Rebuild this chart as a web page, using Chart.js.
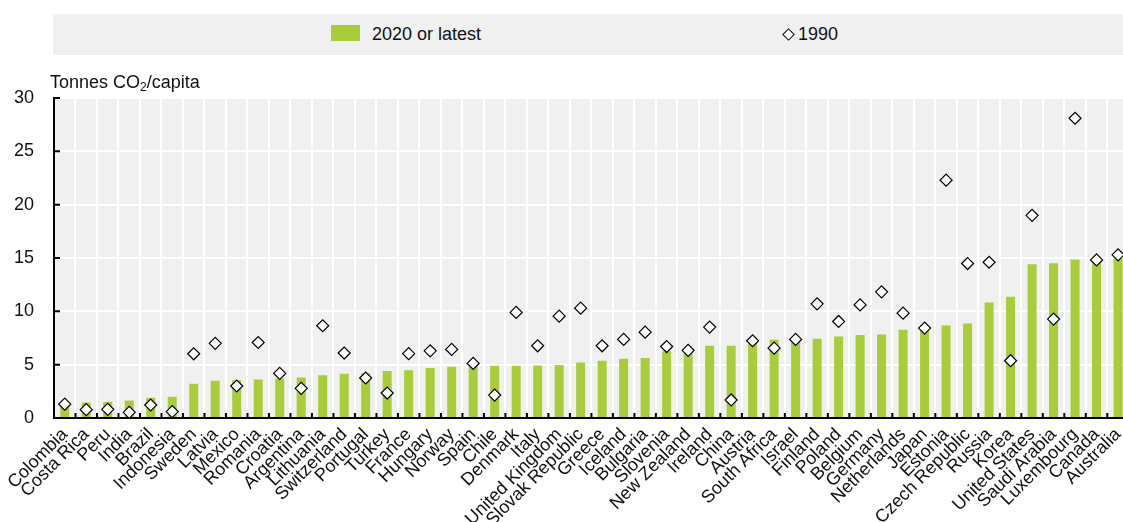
<!DOCTYPE html>
<html>
<head>
<meta charset="utf-8">
<script src="https://cdn.jsdelivr.net/npm/chart.js@4.4.1/dist/chart.umd.min.js"></script>
<style>
  html, body { margin: 0; padding: 0; background: #fff; overflow: hidden; }
  body { width: 1123px; height: 522px; position: relative; font-family: "Liberation Sans", Arial, sans-serif; color: #111; }
  #co2Chart { position: absolute; left: 0; top: 0; }
  #legend { position: absolute; left: 53px; top: 14px; width: 1070px; height: 41px; background: #f0f0f0; font-size: 18px; }
  #legend .item { position: absolute; top: 0; height: 41px; line-height: 41px; }
  .swatch { position: absolute; left: 278px; top: 11px; width: 29px; height: 16px; background: #a9cd3a; }
  .diam { position: absolute; left: 731px; top: 16px; width: 7px; height: 7px; border: 1.3px solid #000; background: #fff; transform: rotate(45deg); }
  #ytitle { position: absolute; left: 50px; top: 72px; font-size: 18px; white-space: nowrap; }
  #ytitle sub { font-size: 12px; vertical-align: -3px; line-height: 0; }
</style>
</head>
<body>
<!-- plot runs a few px past the right edge, like the original -->
<canvas id="co2Chart" width="1136" height="522"></canvas>
<div id="legend">
  <div class="swatch"></div>
  <div class="item" style="left:319px">2020 or latest</div>
  <div class="diam"></div>
  <div class="item" style="left:745px">1990</div>
</div>
<div id="ytitle">Tonnes CO<sub>2</sub>/capita</div>
<script>
const FONT = '"Liberation Sans", Arial, sans-serif';

const countries = ["Colombia","Costa Rica","Peru","India","Brazil","Indonesia","Sweden","Latvia","Mexico","Romania",
  "Croatia","Argentina","Lithuania","Switzerland","Portugal","Turkey","France","Hungary","Norway","Spain",
  "Chile","Denmark","Italy","United Kingdom","Slovak Republic","Greece","Iceland","Bulgaria","Slovenia","New Zealand",
  "Ireland","China","Austria","South Africa","Israel","Finland","Poland","Belgium","Germany","Netherlands",
  "Japan","Estonia","Czech Republic","Russia","Korea","United States","Saudi Arabia","Luxembourg","Canada","Australia"];

const latest = [1.1, 1.45, 1.5, 1.65, 1.9, 2.0, 3.2, 3.5, 3.55, 3.62,
  3.7, 3.8, 4.0, 4.15, 4.2, 4.4, 4.47, 4.68, 4.8, 4.85,
  4.9, 4.9, 4.93, 4.96, 5.2, 5.37, 5.56, 5.62, 6.25, 6.3,
  6.77, 6.78, 7.1, 7.33, 7.4, 7.43, 7.65, 7.77, 7.83, 8.27,
  8.45, 8.68, 8.86, 10.83, 11.36, 14.42, 14.5, 14.85, 14.88, 14.95];

const y1990 = [1.3, 0.78, 0.81, 0.53, 1.22, 0.6, 6.02, 7.0, 3.0, 7.08,
  4.18, 2.78, 8.65, 6.09, 3.75, 2.34, 6.03, 6.3, 6.43, 5.12,
  2.15, 9.9, 6.77, 9.55, 10.3, 6.77, 7.37, 8.05, 6.7, 6.34,
  8.52, 1.69, 7.24, 6.55, 7.37, 10.7, 9.05, 10.6, 11.83, 9.83,
  8.43, 22.3, 14.48, 14.6, 5.37, 19.0, 9.27, 28.1, 14.82, 15.3];

const yTicks = [0, 5, 10, 15, 20, 25, 30];

// grey plot background
const plotBg = {
  id: "plotBg",
  beforeDraw(chart) {
    const { ctx, chartArea: a } = chart;
    ctx.save();
    ctx.fillStyle = "#f0f0f0";
    ctx.fillRect(a.left, a.top, a.right - a.left, a.bottom - a.top);
    ctx.restore();
  }
};

// short black ticks pointing into the plot
const innerTicks = {
  id: "innerTicks",
  beforeDatasetsDraw(chart) {
    const { ctx, chartArea: a, scales: { x, y } } = chart;
    ctx.save();
    ctx.strokeStyle = "#000";
    ctx.lineWidth = 2;
    ctx.beginPath();
    for (let i = 1; i < countries.length; i++) {
      const px = (x.getPixelForTick(i - 1) + x.getPixelForTick(i)) / 2;
      ctx.moveTo(px, a.bottom);
      ctx.lineTo(px, a.bottom - 5);
    }
    yTicks.forEach(v => {
      const py = y.getPixelForValue(v);
      ctx.moveTo(a.left, py);
      ctx.lineTo(a.left + 6, py);
    });
    ctx.stroke();
    ctx.restore();
  }
};

new Chart(document.getElementById("co2Chart"), {
  data: {
    labels: countries,
    datasets: [
      {
        type: "line",
        label: "1990",
        data: y1990,
        showLine: false,
        pointStyle: "rectRot",
        pointRadius: 6,
        pointBackgroundColor: "#fff",
        pointBorderColor: "#000",
        pointBorderWidth: 1.2,
        order: 0
      },
      {
        type: "bar",
        label: "2020 or latest",
        data: latest,
        backgroundColor: "#a9cd3a",
        barPercentage: 0.84,
        categoryPercentage: 0.5,
        order: 1
      }
    ]
  },
  options: {
    animation: false,
    responsive: false,
    devicePixelRatio: 1,
    layout: { padding: { top: 98, right: 7, left: 0, bottom: 0 } },
    plugins: { legend: { display: false }, tooltip: { enabled: false } },
    scales: {
      x: {
        offset: true,
        grid: { color: "#fff", lineWidth: 2, drawTicks: false },
        border: { color: "#000", width: 2 },
        ticks: {
          autoSkip: false, maxRotation: 45, minRotation: 45, padding: 6,
          color: "#111", font: { family: FONT, size: 18 }
        },
        afterFit: s => { s.height = 104; s.paddingLeft = 0; s.paddingRight = 0; }
      },
      y: {
        min: 0, max: 30,
        grid: { color: "#fff", lineWidth: 2, drawTicks: false },
        border: { color: "#000", width: 2 },
        ticks: {
          stepSize: 5, padding: 20,
          color: "#111", font: { family: FONT, size: 18 }
        },
        afterFit: s => { s.width = 54; }
      }
    }
  },
  plugins: [plotBg, innerTicks]
});
</script>
</body>
</html>
